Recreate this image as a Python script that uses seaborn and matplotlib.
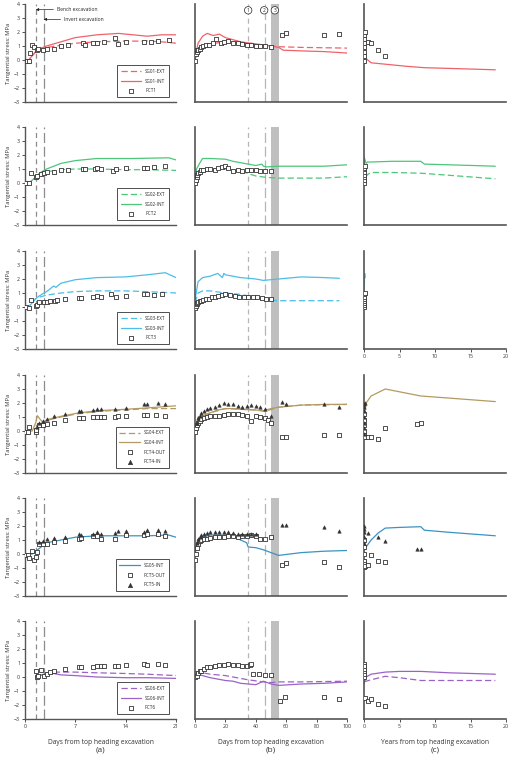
import numpy as np
import pandas as pd
import matplotlib.pyplot as plt
import seaborn as sns

# ---------------- data ----------------
# row 1 : SG01 / PCT1
sg01a_ext_x = [0, 0.5, 1, 1.5, 2, 3, 5, 7, 10, 14, 17, 19, 21]
sg01a_ext_y = [0, 0, 0.3, 0.6, 0.8, 0.9, 1.05, 1.2, 1.3, 1.35, 1.35, 1.3, 1.2]
sg01a_int_x = [0, 0.5, 1, 1.5, 2, 3, 5, 7, 10, 13, 15, 17, 19, 21]
sg01a_int_y = [0, 0, 0.3, 0.6, 0.8, 1.0, 1.3, 1.6, 1.8, 1.9, 1.8, 1.7, 1.8, 1.8]
pct1a_x = [0.3, 0.6, 0.7, 1.0, 1.2, 1.6, 1.8, 2.5, 3, 4, 5, 6, 8, 8.3, 9.5, 10, 11, 12.5, 13, 14, 16.5, 17.5, 18.5, 20]
pct1a_y = [-0.05, -0.05, 0.5, 1.05, 0.9, 0.7, 0.8, 0.75, 0.8, 0.8, 1.0, 1.05, 1.2, 1.1, 1.2, 1.2, 1.3, 1.55, 1.15, 1.3, 1.3, 1.3, 1.35, 1.4]
sg01b_ext_x = [0, 2, 5, 10, 20, 30, 40, 50, 55, 70, 100]
sg01b_ext_y = [0, 0.8, 1.0, 1.15, 1.3, 1.2, 1.1, 1.0, 0.95, 0.9, 0.85]
sg01b_int_x = [0, 2, 5, 8, 12, 16, 20, 25, 30, 40, 50, 55, 58, 70, 85, 100]
sg01b_int_y = [0, 1.2, 1.7, 1.9, 1.75, 1.85, 1.6, 1.45, 1.3, 1.15, 1.0, 0.9, 0.7, 0.65, 0.6, 0.5]
pct1b_x = [0, 0.5, 1, 1.5, 2, 3, 4, 5, 7, 9, 12, 14, 17, 19, 22, 25, 28, 31, 34, 37, 40, 43, 46, 50, 57, 60, 85, 95]
pct1b_y = [-0.1, 0.4, 0.6, 0.7, 0.75, 0.8, 0.9, 1.0, 1.05, 1.1, 1.2, 1.5, 1.25, 1.3, 1.35, 1.25, 1.2, 1.15, 1.1, 1.05, 1.0, 1.0, 1.0, 0.95, 1.8, 1.9, 1.8, 1.85]
sg01c_int_x = [0, 0.05, 0.3, 1, 3, 6, 8.5, 12, 18.5]
sg01c_int_y = [0, 1.9, 0.1, -0.2, -0.3, -0.45, -0.55, -0.6, -0.7]
pct1c_x = [0, 0, 0, 0, 0, 0.05, 0.05, 0.1, 0.5, 1, 2, 3]
pct1c_y = [-0.05, 0.3, 0.6, 0.9, 1.2, 1.5, 1.8, 2.0, 1.3, 1.2, 0.7, 0.3]

# row 2 : SG02 / PCT2
sg02a_ext_x = [0, 0.5, 1, 1.5, 2, 3, 5, 7, 10, 14, 17, 21]
sg02a_ext_y = [0, 0, 0.2, 0.4, 0.6, 0.8, 0.95, 1.0, 1.0, 0.95, 0.95, 0.9]
sg02a_int_x = [0, 0.5, 1, 1.5, 2, 3, 5, 7, 10, 13, 15, 20, 21]
sg02a_int_y = [0, 0, 0.2, 0.4, 0.7, 1.0, 1.4, 1.6, 1.75, 1.75, 1.75, 1.8, 1.65]
pct2a_x = [0.2, 0.5, 0.8, 1.5, 1.7, 2.2, 2.6, 3, 4, 5, 6, 8, 8.3, 9.8, 10, 10.5, 12.2, 12.7, 14, 16.5, 17, 18, 19.5]
pct2a_y = [0, 0, 0.7, 0.4, 0.5, 0.65, 0.7, 0.8, 0.8, 0.9, 0.9, 1.0, 1.0, 1.0, 1.05, 1.0, 0.85, 1.0, 1.05, 1.1, 1.1, 1.15, 1.2]
sg02b_ext_x = [0, 1, 3, 5, 10, 20, 30, 40, 47, 55, 70, 85, 100]
sg02b_ext_y = [0, 0.6, 0.9, 1.0, 1.0, 1.0, 0.85, 0.5, 0.4, 0.35, 0.35, 0.35, 0.45]
sg02b_int_x = [0, 1, 3, 5, 10, 20, 25, 30, 35, 40, 44, 45, 47, 55, 70, 85, 100]
sg02b_int_y = [0, 1.0, 1.4, 1.75, 1.75, 1.7, 1.55, 1.45, 1.35, 1.25, 1.35, 1.2, 1.15, 1.2, 1.2, 1.2, 1.3]
pct2b_x = [0, 0.5, 1, 1.5, 2, 3, 4, 5, 8, 10, 13, 15, 18, 20, 22, 25, 28, 31, 34, 37, 40, 43, 46, 50]
pct2b_y = [0, 0.2, 0.4, 0.6, 0.7, 0.8, 0.9, 0.95, 1.0, 1.0, 0.95, 1.1, 1.15, 1.2, 1.05, 0.85, 0.9, 0.85, 0.9, 0.95, 0.95, 0.85, 0.85, 0.85]
sg02c_ext_x = [0.2, 0.5, 1, 4, 8, 12, 18.5]
sg02c_ext_y = [0.4, 0.6, 0.75, 0.75, 0.7, 0.55, 0.3]
sg02c_int_x = [0, 0.05, 0.3, 0.5, 1, 4, 8, 8.5, 12, 18.5]
sg02c_int_y = [0, 1.8, 1.4, 1.5, 1.5, 1.55, 1.55, 1.35, 1.3, 1.2]
pct2c_x = [0, 0, 0, 0, 0, 0.05, 0.05, 0.1]
pct2c_y = [0, 0.2, 0.4, 0.6, 0.8, 1.0, 1.1, 1.2]

# row 3 : SG03 / PCT3
sg03a_ext_x = [0, 0.5, 1, 1.5, 2, 3, 5, 7, 10, 14, 17, 21]
sg03a_ext_y = [0, 0, 0.3, 0.6, 0.7, 0.85, 1.0, 1.1, 1.15, 1.15, 1.1, 1.0]
sg03a_int_x = [0, 0.5, 1, 1.5, 2, 3, 4, 4.3, 5, 7, 10, 14, 17, 19.5, 21]
sg03a_int_y = [0, 0, 0.3, 0.6, 0.8, 1.1, 1.5, 1.4, 1.7, 1.95, 2.1, 2.15, 2.3, 2.45, 2.1]
pct3a_x = [0.1, 0.5, 0.9, 1.5, 1.6, 2, 2.6, 3, 3.5, 4.2, 4.5, 5.5, 7.5, 7.8, 9.5, 10, 10.5, 12, 12.6, 14, 16.5, 17, 18, 19]
pct3a_y = [0, -0.1, 0.5, 0.1, 0.15, 0.35, 0.35, 0.35, 0.45, 0.45, 0.5, 0.55, 0.65, 0.65, 0.7, 0.8, 0.75, 0.9, 0.75, 0.8, 0.9, 0.9, 0.85, 0.9]
sg03b_ext_x = [0, 2, 5, 10, 20, 30, 40, 46, 55, 70, 95]
sg03b_ext_y = [0.3, 1.0, 1.15, 1.15, 1.0, 0.9, 0.7, 0.5, 0.45, 0.45, 0.45]
sg03b_int_x = [0, 2, 5, 10, 15, 18, 19, 20, 25, 30, 40, 45, 55, 70, 85, 95]
sg03b_int_y = [0.5, 1.8, 2.1, 2.2, 2.4, 2.1, 2.4, 2.3, 2.2, 2.1, 2.0, 1.9, 2.0, 2.15, 2.1, 2.05]
pct3b_x = [0, 0.5, 1, 1.5, 2, 3, 4, 5, 7, 9, 11, 13, 15, 18, 20, 23, 26, 29, 32, 35, 38, 41, 44, 47, 50]
pct3b_y = [-0.1, 0.1, 0.2, 0.3, 0.35, 0.4, 0.45, 0.5, 0.55, 0.6, 0.7, 0.75, 0.8, 0.85, 0.9, 0.85, 0.8, 0.75, 0.7, 0.7, 0.7, 0.7, 0.65, 0.6, 0.6]
sg03c_int_x = [0, 0.1, 0.15]
sg03c_int_y = [1.0, 2.4, 2.1]
pct3c_x = [0, 0, 0, 0, 0, 0.05, 0.05, 0.1]
pct3c_y = [0, 0.15, 0.3, 0.45, 0.6, 0.75, 0.9, 1.0]

# row 4 : SG04 / PCT4
sg04a_ext_x = [0, 1, 1.5, 2, 2.5, 3, 5, 7, 10, 14, 17, 21]
sg04a_ext_y = [0, 0, 0.2, 0.5, 0.6, 0.75, 1.0, 1.2, 1.4, 1.5, 1.6, 1.6]
sg04a_int_x = [0, 1, 1.5, 1.7, 2, 2.5, 3, 5, 7, 10, 14, 17, 21]
sg04a_int_y = [0, 0, 0.6, 1.1, 0.9, 0.6, 0.8, 1.05, 1.25, 1.45, 1.55, 1.65, 1.8]
pct4out_a_x = [0.1, 0.4, 0.6, 1.5, 1.55, 2, 2.5, 3, 4, 5.5, 7.5, 8, 9.5, 10, 10.5, 11, 12.5, 13, 14, 16.5, 17, 18.2, 19.5]
pct4out_a_y = [-0.05, -0.05, 0.3, -0.1, 0.05, 0.45, 0.45, 0.5, 0.6, 0.8, 0.95, 0.9, 1.0, 1.0, 1.0, 1.0, 1.0, 1.05, 1.1, 1.15, 1.15, 1.15, 1.1]
pct4in_a_x = [1.6, 2, 2.5, 3, 4, 5.5, 7.5, 7.8, 9.5, 10, 10.5, 12.5, 14, 16.5, 17, 18.5, 19.5]
pct4in_a_y = [0.3, 0.6, 0.75, 0.85, 1.1, 1.25, 1.45, 1.4, 1.5, 1.55, 1.55, 1.6, 1.65, 1.9, 1.9, 2.0, 1.9]
sg04b_ext_x = [0, 2, 5, 10, 20, 30, 40, 46, 55, 70, 100]
sg04b_ext_y = [0, 0.8, 1.0, 1.3, 1.6, 1.55, 1.5, 1.4, 1.7, 1.85, 1.9]
sg04b_int_x = [0, 2, 5, 10, 15, 20, 25, 30, 40, 45, 50, 55, 60, 70, 85, 100]
sg04b_int_y = [0, 1.0, 1.1, 1.3, 1.5, 1.6, 1.6, 1.55, 1.5, 1.45, 1.6, 1.7, 1.75, 1.85, 1.9, 1.9]
pct4out_b_x = [0, 0.5, 1, 2, 3, 4, 6, 8, 10, 13, 16, 19, 22, 25, 28, 31, 34, 37, 40, 43, 46, 48, 50, 57, 60, 85, 95]
pct4out_b_y = [-0.1, 0.2, 0.4, 0.6, 0.75, 0.85, 0.9, 1.0, 1.05, 1.05, 1.1, 1.15, 1.2, 1.2, 1.2, 1.15, 1.1, 0.75, 1.1, 1.0, 0.9, 0.8, 0.6, -0.4, -0.45, -0.3, -0.25]
pct4in_b_x = [1, 2, 3, 4, 6, 8, 10, 13, 16, 19, 22, 25, 28, 31, 34, 37, 40, 43, 46, 50, 57, 60, 85, 95]
pct4in_b_y = [0.6, 0.9, 1.1, 1.3, 1.45, 1.55, 1.65, 1.75, 1.85, 2.0, 1.95, 1.9, 1.8, 1.75, 1.8, 1.85, 1.8, 1.7, 1.6, 1.1, 2.1, 1.95, 1.95, 1.7]
sg04c_int_x = [0, 0.3, 1, 3, 5, 8, 12, 18.5]
sg04c_int_y = [0.8, 2.0, 2.5, 3.0, 2.8, 2.5, 2.35, 2.1]
pct4out_c_x = [0, 0, 0, 0, 0, 0.05, 0.1, 0.5, 1, 2, 3, 7.5, 8]
pct4out_c_y = [-0.3, 0.0, 0.4, 0.8, 1.2, -0.4, -0.45, -0.4, -0.4, -0.55, 0.25, 0.5, 0.6]
pct4in_c_x = [0, 0, 0, 0, 0, 0.05, 0.05, 0.1]
pct4in_c_y = [-0.2, 0.2, 0.6, 1.0, 1.4, 1.7, 1.9, 2.0]

# row 5 : SG05 / PCT5
sg05a_int_x = [0, 1, 2, 3, 5, 7, 10, 14, 17, 20, 21]
sg05a_int_y = [0, 0, 0.4, 0.8, 1.0, 1.2, 1.3, 1.3, 1.3, 1.35, 1.2]
pct5out_a_x = [0.1, 0.4, 0.6, 1.0, 1.3, 1.5, 1.7, 2, 2.5, 3, 4, 5.5, 7.5, 7.8, 9.5, 10, 10.5, 12.5, 14, 16.5, 17, 18.5, 19.5]
pct5out_a_y = [-0.05, -0.1, -0.3, 0.25, -0.4, -0.2, 0.15, 0.7, 0.75, 0.75, 0.85, 0.95, 1.1, 1.15, 1.3, 1.3, 1.05, 1.1, 1.35, 1.35, 1.4, 1.4, 1.3]
pct5in_a_x = [2, 2.5, 3, 4, 5.5, 7.5, 7.8, 9.5, 10, 10.5, 12.5, 13, 14, 16.5, 17, 18.5, 19.5]
pct5in_a_y = [0.85, 0.95, 1.05, 1.15, 1.25, 1.45, 1.35, 1.45, 1.6, 1.45, 1.5, 1.65, 1.65, 1.6, 1.75, 1.7, 1.65]
sg05b_int_x = [0, 2, 5, 10, 20, 25, 30, 34, 35, 40, 45, 50, 55, 70, 85, 100]
sg05b_int_y = [0, 1.0, 1.2, 1.35, 1.35, 1.3, 1.0, 0.8, 0.5, 0.45, 0.3, 0.1, -0.1, 0.1, 0.2, 0.25]
pct5out_b_x = [0, 0.5, 1, 2, 3, 4, 6, 8, 10, 13, 16, 19, 22, 25, 28, 31, 34, 37, 40, 43, 46, 50, 57, 60, 85, 95]
pct5out_b_y = [-0.4, 0.0, 0.4, 0.7, 0.9, 1.0, 1.1, 1.1, 1.15, 1.2, 1.2, 1.25, 1.3, 1.3, 1.25, 1.3, 1.3, 1.35, 1.3, 1.1, 1.05, 1.2, -0.75, -0.65, -0.55, -0.9]
pct5in_b_x = [1, 2, 3, 4, 6, 8, 10, 13, 16, 19, 22, 25, 28, 31, 34, 37, 40, 57, 60, 85, 95]
pct5in_b_y = [0.8, 1.1, 1.25, 1.35, 1.45, 1.5, 1.55, 1.6, 1.6, 1.6, 1.55, 1.5, 1.45, 1.4, 1.45, 1.45, 1.4, 2.1, 2.05, 1.95, 1.65]
sg05c_int_x = [0, 0.3, 1, 2, 3, 5, 8, 8.5, 12, 18.5]
sg05c_int_y = [0.2, 0.5, 1.0, 1.5, 1.85, 1.9, 1.95, 1.7, 1.55, 1.3]
pct5out_c_x = [0, 0, 0, 0, 0, 0.05, 0.1, 0.5, 1, 2, 3]
pct5out_c_y = [-0.9, -0.5, 0.0, 0.5, 1.0, -0.7, -0.85, -0.8, -0.05, -0.5, -0.55]
pct5in_c_x = [0, 0, 0, 0, 0.05, 0.5, 2, 3, 7.5, 8]
pct5in_c_y = [0.8, 1.2, 1.6, 2.0, 1.8, 1.5, 1.25, 0.95, 0.35, 0.35]

# row 6 : SG06 / PCT6
sg06a_ext_x = [1.5, 2, 3, 4, 5, 7, 10, 14, 17, 21]
sg06a_ext_y = [0, 0.1, 0.3, 0.35, 0.35, 0.35, 0.3, 0.25, 0.2, 0.1]
sg06a_int_x = [1.5, 2, 3, 4, 5, 7, 10, 14, 17, 21]
sg06a_int_y = [0, 0.1, 0.25, 0.25, 0.15, 0.1, 0.0, -0.05, -0.05, -0.1]
pct6a_x = [1.5, 1.6, 1.8, 2.2, 2.6, 3, 3.5, 4, 5.5, 7.5, 7.8, 9.5, 10, 10.5, 11, 12.5, 13, 14, 16.5, 17, 18.5, 19.5]
pct6a_y = [0.45, 0, 0.1, 0.5, 0.05, 0.2, 0.35, 0.45, 0.6, 0.7, 0.7, 0.7, 0.8, 0.8, 0.8, 0.8, 0.8, 0.85, 0.9, 0.85, 0.9, 0.85]
sg06b_ext_x = [0, 5, 10, 20, 30, 35, 45, 50, 55, 70, 100]
sg06b_ext_y = [0.4, 0.3, 0.2, 0.1, -0.1, -0.2, -0.35, -0.4, -0.35, -0.35, -0.3]
sg06b_int_x = [0, 5, 10, 15, 20, 25, 30, 35, 40, 45, 50, 55, 70, 85, 100]
sg06b_int_y = [0.3, 0.1, -0.05, -0.15, -0.25, -0.3, -0.45, -0.5, -0.55, -0.3, -0.5, -0.6, -0.5, -0.45, -0.35]
pct6b_x = [0, 1, 2, 3, 4, 6, 8, 10, 13, 16, 19, 22, 25, 28, 31, 34, 36, 37, 38, 42, 46, 50, 56, 59, 85, 95]
pct6b_y = [0.0, 0.1, 0.3, 0.4, 0.45, 0.55, 0.7, 0.75, 0.8, 0.85, 0.85, 0.9, 0.85, 0.85, 0.8, 0.8, 0.85, 0.9, 0.2, 0.2, 0.15, 0.15, -1.7, -1.4, -1.4, -1.55]
sg06c_ext_x = [0, 0.3, 1, 3, 5, 8, 12, 18.5]
sg06c_ext_y = [-0.3, -0.3, -0.2, 0.05, -0.05, -0.25, -0.25, -0.25]
sg06c_int_x = [0, 0.3, 1, 3, 5, 8, 12, 18.5]
sg06c_int_y = [-0.5, 0.0, 0.2, 0.35, 0.4, 0.4, 0.3, 0.2]
pct6c_x = [0, 0, 0, 0, 0, 0.05, 0.2, 0.5, 1, 2, 3]
pct6c_y = [0, 0.2, 0.4, 0.6, 0.9, 0.8, -1.5, -1.7, -1.6, -1.95, -2.05]

colors = ["#f0626a", "#4cc67a", "#4cbde8", "#b39a62", "#3a93c3", "#9b62c8"]

# ---------------- drawing ----------------
sns.set_style("ticks")
plt.rcParams["font.family"] = ["Open Sans", "DejaVu Sans"]

fig = plt.figure(figsize=(5.2, 7.61), dpi=100)
W, H = 520, 761
col_left = [25, 195, 364]
col_width = [151, 152, 142]
row_bottom = [102, 225, 349, 473, 596, 719]
ax_h = 98


def line(ax, x, y, c, dashed=False, label=None):
    sns.lineplot(x=x, y=y, ax=ax, color=c, lw=0.9, sort=False, estimator=None,
                 linestyle=(0, (5, 2.5)) if dashed else "-", label=label)


def pts(ax, x, y, tri=False, label=None):
    if tri:
        sns.scatterplot(x=x, y=y, ax=ax, marker="^", s=6, color="#333333",
                        edgecolor="#333333", linewidth=0.4, label=label, zorder=5)
    else:
        sns.scatterplot(x=x, y=y, ax=ax, marker="s", s=6, facecolor="white",
                        edgecolor="#333333", linewidth=0.6, label=label, zorder=5)


rows = [
    ([("l", sg01a_ext_x, sg01a_ext_y, True, "SG01-EXT"), ("l", sg01a_int_x, sg01a_int_y, False, "SG01-INT"),
      ("p", pct1a_x, pct1a_y, False, "PCT1")],
     [("l", sg01b_ext_x, sg01b_ext_y, True, None), ("l", sg01b_int_x, sg01b_int_y, False, None),
      ("p", pct1b_x, pct1b_y, False, None)],
     [("l", sg01c_int_x, sg01c_int_y, False, None), ("p", pct1c_x, pct1c_y, False, None)]),
    ([("l", sg02a_ext_x, sg02a_ext_y, True, "SG02-EXT"), ("l", sg02a_int_x, sg02a_int_y, False, "SG02-INT"),
      ("p", pct2a_x, pct2a_y, False, "PCT2")],
     [("l", sg02b_ext_x, sg02b_ext_y, True, None), ("l", sg02b_int_x, sg02b_int_y, False, None),
      ("p", pct2b_x, pct2b_y, False, None)],
     [("l", sg02c_ext_x, sg02c_ext_y, True, None), ("l", sg02c_int_x, sg02c_int_y, False, None),
      ("p", pct2c_x, pct2c_y, False, None)]),
    ([("l", sg03a_ext_x, sg03a_ext_y, True, "SG03-EXT"), ("l", sg03a_int_x, sg03a_int_y, False, "SG03-INT"),
      ("p", pct3a_x, pct3a_y, False, "PCT3")],
     [("l", sg03b_ext_x, sg03b_ext_y, True, None), ("l", sg03b_int_x, sg03b_int_y, False, None),
      ("p", pct3b_x, pct3b_y, False, None)],
     [("l", sg03c_int_x, sg03c_int_y, False, None), ("p", pct3c_x, pct3c_y, False, None)]),
    ([("l", sg04a_ext_x, sg04a_ext_y, True, "SG04-EXT"), ("l", sg04a_int_x, sg04a_int_y, False, "SG04-INT"),
      ("p", pct4out_a_x, pct4out_a_y, False, "PCT4-OUT"), ("p", pct4in_a_x, pct4in_a_y, True, "PCT4-IN")],
     [("l", sg04b_ext_x, sg04b_ext_y, True, None), ("l", sg04b_int_x, sg04b_int_y, False, None),
      ("p", pct4out_b_x, pct4out_b_y, False, None), ("p", pct4in_b_x, pct4in_b_y, True, None)],
     [("l", sg04c_int_x, sg04c_int_y, False, None), ("p", pct4out_c_x, pct4out_c_y, False, None),
      ("p", pct4in_c_x, pct4in_c_y, True, None)]),
    ([("l", sg05a_int_x, sg05a_int_y, False, "SG05-INT"),
      ("p", pct5out_a_x, pct5out_a_y, False, "PCT5-OUT"), ("p", pct5in_a_x, pct5in_a_y, True, "PCT5-IN")],
     [("l", sg05b_int_x, sg05b_int_y, False, None),
      ("p", pct5out_b_x, pct5out_b_y, False, None), ("p", pct5in_b_x, pct5in_b_y, True, None)],
     [("l", sg05c_int_x, sg05c_int_y, False, None), ("p", pct5out_c_x, pct5out_c_y, False, None),
      ("p", pct5in_c_x, pct5in_c_y, True, None)]),
    ([("l", sg06a_ext_x, sg06a_ext_y, True, "SG06-EXT"), ("l", sg06a_int_x, sg06a_int_y, False, "SG06-INT"),
      ("p", pct6a_x, pct6a_y, False, "PCT6")],
     [("l", sg06b_ext_x, sg06b_ext_y, True, None), ("l", sg06b_int_x, sg06b_int_y, False, None),
      ("p", pct6b_x, pct6b_y, False, None)],
     [("l", sg06c_ext_x, sg06c_ext_y, True, None), ("l", sg06c_int_x, sg06c_int_y, False, None),
      ("p", pct6c_x, pct6c_y, False, None)]),
]

xlims = [(0, 21), (0, 100), (0, 20)]
xticks = [[0, 7, 14, 21], [0, 20, 40, 60, 80, 100], [0, 5, 10, 15, 20]]
arrow = dict(arrowstyle="-|>", lw=0.5, color="#222222", mutation_scale=4, relpos=(0, 0.5),
             shrinkA=0, shrinkB=0)

for r, row in enumerate(rows):
    for c, items in enumerate(row):
        ax = fig.add_axes([col_left[c] / W, 1 - row_bottom[r] / H, col_width[c] / W, ax_h / H])
        if c == 0:
            ax.axvline(1.5, color="#8c8c8c", lw=0.9, ls=(0, (4, 3)), zorder=1)
            ax.axvline(2.6, color="#8c8c8c", lw=0.9, ls=(0, (8, 3)), zorder=1)
        if c == 1:
            ax.axvline(35, color="#b5b5b5", lw=0.9, ls=(0, (4, 3)), zorder=1)
            ax.axvline(46, color="#b5b5b5", lw=0.9, ls=(0, (8, 3)), zorder=1)
            ax.axvspan(50, 55, color="#bfbfbf", lw=0, zorder=1)
        for kind, x, y, flag, lab in items:
            if kind == "l":
                line(ax, x, y, colors[r], dashed=flag, label=lab)
            else:
                pts(ax, x, y, tri=flag, label=lab)
        ax.set_xlim(*xlims[c])
        ax.set_ylim(-3, 4)
        ax.set_xticks(xticks[c])
        ax.set_yticks(range(-3, 5))
        ax.tick_params(length=2, width=0.6, labelsize=3.8, pad=1.5, colors="#333333")
        for s in ["top", "right"]:
            ax.spines[s].set_visible(False)
        for s in ["left", "bottom"]:
            ax.spines[s].set_linewidth(1.0 if c == 0 else 1.2)
            ax.spines[s].set_color("#555555")
        ax.set_xlabel("")
        ax.set_ylabel("")
        if c == 0:
            ax.set_ylabel("Tangential stress: MPa", fontsize=4.2, labelpad=2, color="#333333")
            ax.legend(loc="lower right", bbox_to_anchor=(0.97, 0.03), fontsize=3.3, frameon=True,
                      fancybox=False, edgecolor="#222222", handlelength=4.5, borderpad=0.8,
                      labelspacing=1.0, markerscale=1.3).get_frame().set_linewidth(0.7)
        else:
            ax.set_yticks([])
        if not (r == 5 or (r == 2 and c == 2)):
            ax.tick_params(axis="x", length=0, labelbottom=False)
        if r == 5:
            lbl = "Years from top heading excavation" if c == 2 else "Days from top heading excavation"
            ax.set_xlabel(lbl, fontsize=4.8, labelpad=7, color="#333333")
            ax.text(0.5, -0.28, "(" + "abc"[c] + ")", transform=ax.transAxes, ha="center",
                    va="top", fontsize=6, color="#333333")
        if r == 0 and c == 0:
            ax.annotate("Bench excavation", xy=(1.5, 3.6), xytext=(4.4, 3.6), fontsize=3.6,
                        va="center", ha="left", arrowprops=arrow)
            ax.annotate("Invert excavation", xy=(2.6, 2.9), xytext=(5.4, 2.9), fontsize=3.6,
                        va="center", ha="left", arrowprops=arrow)
        if r == 0 and c == 1:
            for xv, t in [(35, "1"), (45.5, "2"), (52.5, "3")]:
                ax.text(xv, 3.55, t, ha="center", va="center", fontsize=3.5,
                        bbox=dict(boxstyle="circle,pad=0.25", fc="white", ec="#222222", lw=0.5))

fig.savefig("out.png", dpi=100)
